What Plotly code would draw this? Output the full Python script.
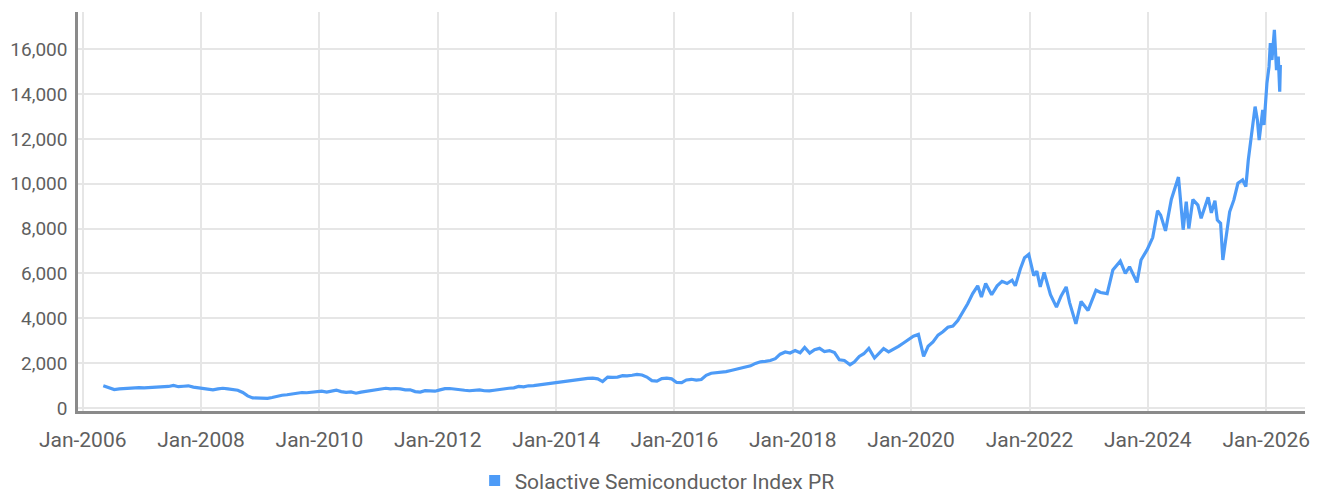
import plotly.graph_objects as go

dates = [
"2006-05-08","2006-06-01","2006-06-20","2006-07-15","2006-08-15","2006-09-15","2006-10-15","2006-11-15","2006-12-15",
"2007-01-15","2007-02-15","2007-03-15","2007-04-15","2007-05-15","2007-06-15","2007-07-15","2007-08-15","2007-09-15","2007-10-15","2007-11-15","2007-12-15",
"2008-01-15","2008-02-15","2008-03-15","2008-04-15","2008-05-15","2008-06-15","2008-07-15","2008-08-15","2008-09-15","2008-10-15","2008-11-15","2008-12-15",
"2009-01-15","2009-02-15","2009-03-15","2009-04-15","2009-05-15","2009-06-15","2009-07-15","2009-08-15","2009-09-15","2009-10-15","2009-11-15","2009-12-15",
"2010-01-15","2010-02-15","2010-03-15","2010-04-15","2010-05-15","2010-06-15","2010-07-15","2010-08-15","2010-09-15","2010-10-15","2010-11-15","2010-12-15",
"2011-01-15","2011-02-15","2011-03-15","2011-04-15","2011-05-15","2011-06-15","2011-07-15","2011-08-15","2011-09-15","2011-10-15","2011-11-15","2011-12-15",
"2012-01-15","2012-02-15","2012-03-15","2012-04-15","2012-05-15","2012-06-15","2012-07-15","2012-08-15","2012-09-15","2012-10-15","2012-11-15","2012-12-15",
"2013-01-15","2013-02-15","2013-03-15","2013-04-15","2013-05-15","2013-06-15","2013-07-15","2013-08-15","2013-09-15","2013-10-15","2013-11-15","2013-12-15",
"2014-01-15","2014-02-15","2014-03-15","2014-04-15","2014-05-15","2014-06-15","2014-07-15","2014-08-15","2014-09-15","2014-10-15","2014-11-15","2014-12-15",
"2015-01-15","2015-02-15","2015-03-15","2015-04-15","2015-05-15","2015-06-15","2015-07-15","2015-08-15","2015-09-15","2015-10-15","2015-11-15","2015-12-15",
"2016-01-15","2016-02-15","2016-03-15","2016-04-15","2016-05-15","2016-06-15","2016-07-15","2016-08-15","2016-09-15","2016-10-15","2016-11-15","2016-12-15",
"2017-01-15","2017-02-15","2017-03-15","2017-04-15","2017-05-15","2017-06-15","2017-07-15","2017-08-15","2017-09-15","2017-10-15","2017-11-15","2017-12-15",
"2018-01-15","2018-02-15","2018-03-15","2018-04-15","2018-05-15","2018-06-15","2018-07-15","2018-08-15","2018-09-15","2018-10-15","2018-11-15","2018-12-20",
"2019-01-15","2019-02-15","2019-03-15","2019-04-15","2019-05-20","2019-06-15","2019-07-15","2019-08-15","2019-09-15","2019-10-15","2019-11-15","2019-12-15",
"2020-01-15","2020-02-15","2020-03-18","2020-04-15","2020-05-15","2020-06-15","2020-07-15","2020-08-15","2020-09-15","2020-10-15","2020-11-15","2020-12-15",
"2021-01-15","2021-02-15","2021-03-10","2021-04-05","2021-05-12","2021-06-15","2021-07-15","2021-08-15","2021-09-15","2021-10-05","2021-11-05","2021-12-01","2021-12-27",
"2022-01-27","2022-02-15","2022-03-08","2022-04-01","2022-05-10","2022-06-16","2022-07-15","2022-08-15","2022-09-05","2022-10-14","2022-11-15","2022-12-28",
"2023-01-15","2023-02-15","2023-03-15","2023-04-25","2023-05-30","2023-07-15","2023-08-15","2023-09-10","2023-10-26","2023-11-20","2023-12-27",
"2024-01-31","2024-03-01","2024-03-20","2024-04-19","2024-05-25","2024-07-08","2024-08-06","2024-08-25","2024-09-10","2024-10-05","2024-11-05","2024-11-25","2024-12-16",
"2025-01-07","2025-01-27","2025-02-18","2025-03-05","2025-03-25","2025-04-08","2025-04-24","2025-05-20","2025-06-15","2025-07-10","2025-08-08","2025-08-28",
"2025-09-12","2025-10-05","2025-10-24","2025-11-07","2025-11-18","2025-12-10","2025-12-18",
"2026-01-05","2026-01-18","2026-01-26","2026-02-05","2026-02-20","2026-03-05","2026-03-16","2026-03-25","2026-03-29",
]

index_values = [
990,930,850,820,850,870,890,900,905,
900,915,905,930,950,960,1010,950,970,990,930,900,
840,820,810,850,880,850,810,790,690,540,450,440,
460,430,470,540,570,590,630,660,690,680,700,730,
750,710,760,800,730,700,720,660,710,750,790,830,
860,880,850,870,850,810,810,730,710,770,760,750,
810,860,870,840,790,790,770,800,810,770,760,790,
830,860,880,900,960,940,990,1000,1030,1060,1100,1130,
1150,1190,1220,1230,1270,1320,1320,1330,1300,1180,1380,1370,
1380,1440,1430,1460,1500,1470,1380,1220,1200,1310,1330,1300,
1140,1130,1250,1280,1240,1270,1460,1550,1570,1600,1620,1670,
1720,1800,1850,1880,1990,2060,2080,2120,2200,2400,2500,2450,
2560,2460,2700,2450,2600,2660,2520,2560,2470,2150,2120,1930,
2050,2300,2420,2660,2230,2450,2650,2500,2620,2750,2900,3050,
3200,3280,2300,2750,2950,3250,3400,3600,3650,3900,4250,4650,
5100,5450,4950,5550,5050,5450,5650,5550,5700,5450,6200,6700,6850,
5900,6100,5400,6050,5050,4500,5000,5400,4700,3750,4750,4350,
4700,5250,5150,5100,6150,6550,6000,6300,5600,6600,7050,
7600,8800,8600,7900,9300,10300,7950,9200,8000,9300,9050,8460,8980,
9400,8700,9250,8380,8240,6600,7500,8750,9280,10020,10170,9870,
11060,12250,13440,12850,11950,13290,12620,
14480,15220,16270,15520,16860,15070,15670,14110,15300,
]

series_name = "Solactive Semiconductor Index PR"
y_ticks = [0, 2000, 4000, 6000, 8000, 10000, 12000, 14000, 16000]

LINE = "#4d9bf7"
FONT = "Roboto"
TXT = "#5f5f5f"

fig = go.Figure()
fig.add_trace(go.Scatter(x=dates, y=index_values, mode="lines",
                         line=dict(color=LINE, width=3.2), showlegend=False))
fig.add_trace(go.Scatter(x=[None], y=[None], mode="markers", name=series_name,
                         marker=dict(symbol="square", size=11, color=LINE)))

# the page body adds an 8px offset, so the figure is sized to fill the rest of the window
fig.update_layout(
    width=1315, height=486,
    margin=dict(l=70, r=18, t=4, b=83, autoexpand=False),
    plot_bgcolor="white", paper_bgcolor="white",
    font=dict(family=FONT, color=TXT, size=21),
    showlegend=True,
    legend=dict(orientation="h", x=0.472, xanchor="center", y=-0.175, yanchor="middle",
                font=dict(family=FONT, size=21, color=TXT), itemwidth=30),
    xaxis=dict(
        type="date", range=["2005-12-03", "2026-08-28"], automargin=False,
        tick0="2006-01-01", dtick="M24", tickformat="%b-%Y",
        showgrid=True, gridcolor="#e6e6e6", gridwidth=2,
        showline=True, linecolor="#8a8a8a", linewidth=2.5,
        ticks="", ticklabelstandoff=8, zeroline=False,
        tickfont=dict(family=FONT, size=21, color=TXT),
    ),
    yaxis=dict(
        range=[-134, 17660], tickvals=y_ticks, tickformat=",", automargin=False,
        showgrid=True, gridcolor="#e6e6e6", gridwidth=2,
        showline=True, linecolor="#8a8a8a", linewidth=2.5,
        ticks="", ticklabelstandoff=4, zeroline=False,
        tickfont=dict(family=FONT, size=19, color=TXT),
    ),
)

fig.write_html("out.html")
